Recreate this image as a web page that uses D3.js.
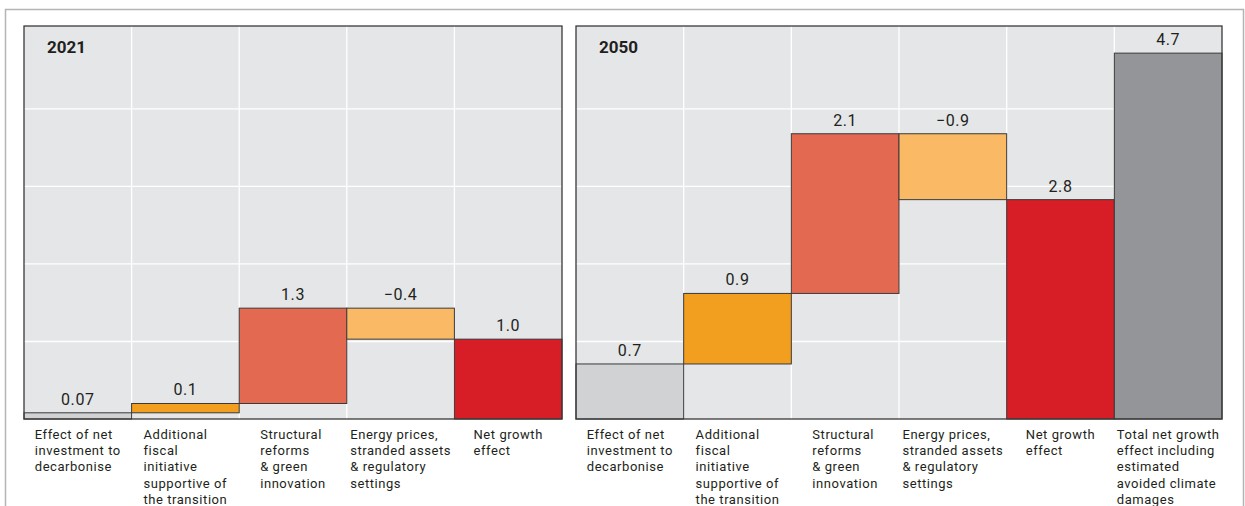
<!DOCTYPE html>
<html>
<head>
<meta charset="utf-8">
<script src="https://cdn.jsdelivr.net/npm/d3@7"></script>
<style>
  html, body { margin: 0; padding: 0; background: #ffffff; }
  svg { display: block; }
  text { font-family: Roboto, "Noto Sans", sans-serif; fill: #231f20; }
</style>
</head>
<body>
<svg id="chart" width="1245" height="506"></svg>
<script>
// ---- data ----
const categories = [
  ["Effect of net", "investment to", "decarbonise"],
  ["Additional", "fiscal", "initiative", "supportive of", "the transition"],
  ["Structural", "reforms", "& green", "innovation"],
  ["Energy prices,", "stranded assets", "& regulatory", "settings"],
  ["Net growth", "effect"],
  ["Total net growth", "effect including", "estimated", "avoided climate", "damages"]
];
const barTypes = ["delta", "delta", "delta", "delta", "total", "total"];
const barColors = ["#d1d2d4", "#f29f1f", "#e36a50", "#f9b965", "#d71e26", "#949598"];

const title2021 = "2021";
const values2021 = [0.08, 0.12, 1.23, -0.40, 1.03];
const labels2021 = ["0.07", "0.1", "1.3", "\u22120.4", "1.0"];

const title2050 = "2050";
const values2050 = [0.71, 0.91, 2.06, -0.85, 2.83, 4.72];
const labels2050 = ["0.7", "0.9", "2.1", "\u22120.9", "2.8", "4.7"];

const yTicks = [1, 2, 3, 4];

// ---- drawing ----
const svg = d3.select("#chart");

// outer frame
svg.append("path")
  .attr("d", "M5.5,506 L5.5,9.5 L1243.5,9.5 L1243.5,506")
  .attr("fill", "none").attr("stroke", "#b4b4b4").attr("stroke-width", 1.5);

const plotTop = 26, plotBottom = 419;
const y = d3.scaleLinear().domain([0, 5.07]).range([plotBottom, plotTop]);

function drawPanel(x0, x1, title, values, labels) {
  const n = values.length;
  const idx = d3.range(n);
  const x = d3.scaleBand().domain(idx).range([x0, x1]).padding(0);
  const g = svg.append("g");

  g.append("rect").attr("x", x0).attr("y", plotTop).attr("width", x1 - x0).attr("height", plotBottom - plotTop)
    .attr("fill", "#e5e6e8");

  // horizontal gridlines
  g.append("g").selectAll("line").data(yTicks).join("line")
    .attr("x1", x0).attr("x2", x1)
    .attr("y1", d => y(d)).attr("y2", d => y(d))
    .attr("stroke", "#ffffff").attr("stroke-width", 1.3);
  // vertical gridlines at column boundaries
  g.append("g").selectAll("line").data(idx.slice(1)).join("line")
    .attr("x1", d => x(d)).attr("x2", d => x(d))
    .attr("y1", plotTop).attr("y2", plotBottom)
    .attr("stroke", "#ffffff").attr("stroke-width", 1.3);

  // waterfall
  let cum = 0;
  const bars = values.map((v, i) => {
    let b0, b1;
    if (barTypes[i] === "total") { b0 = 0; b1 = v; }
    else { b0 = cum; b1 = cum + v; cum = b1; }
    return { i, v, lo: Math.min(b0, b1), hi: Math.max(b0, b1), label: labels[i] };
  });

  g.append("g").selectAll("rect").data(bars).join("rect")
    .attr("x", d => x(d.i)).attr("width", x.bandwidth())
    .attr("y", d => y(d.hi)).attr("height", d => y(d.lo) - y(d.hi))
    .attr("fill", d => barColors[d.i])
    .attr("stroke", "#3a3a3a").attr("stroke-width", 1);

  g.append("g").selectAll("text").data(bars).join("text")
    .attr("x", d => x(d.i) + x.bandwidth() / 2)
    .attr("y", d => y(d.hi) - 8)
    .attr("text-anchor", "middle")
    .attr("font-size", 16).attr("letter-spacing", 0.6)
    .text(d => d.label);

  // frame
  g.append("rect").attr("x", x0).attr("y", plotTop).attr("width", x1 - x0).attr("height", plotBottom - plotTop)
    .attr("fill", "none").attr("stroke", "#3a3a3a").attr("stroke-width", 1.3);

  // title
  g.append("text").attr("x", x0 + 23).attr("y", 53)
    .attr("font-size", 17).attr("font-weight", "bold")
    .text(title);

  // category labels
  idx.forEach(i => {
    const t = g.append("text").attr("font-size", 13).attr("letter-spacing", 0.55).attr("y", 438.5);
    categories[i].forEach((line, k) => {
      t.append("tspan").attr("x", 0).attr("dy", k === 0 ? 0 : 16.4).text(line);
    });
    const w = t.node().getBBox().width;
    const left = x(i) + x.bandwidth() / 2 - w / 2;
    t.selectAll("tspan").attr("x", left);
  });
}

drawPanel(24, 562, title2021, values2021, labels2021);
drawPanel(576, 1222, title2050, values2050, labels2050);
</script>
</body>
</html>
